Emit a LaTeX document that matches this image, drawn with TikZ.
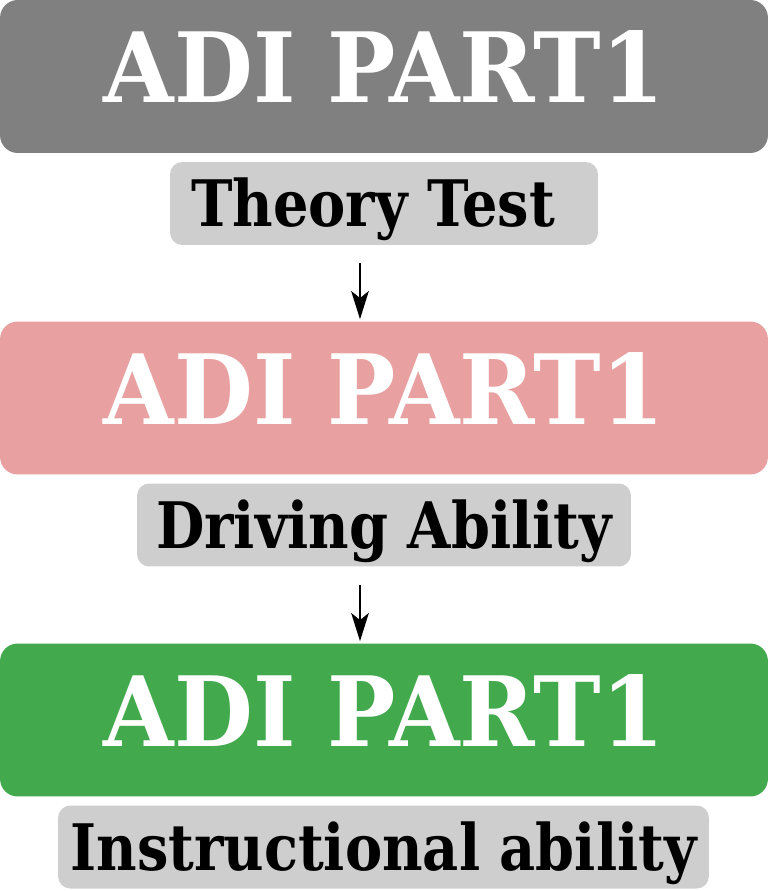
\documentclass[tikz,border=0pt]{standalone}
\usepackage{fontspec}
\setmainfont{DejaVu Serif}
\newfontfamily\partfont{DejaVu Serif}[FakeStretch=0.937]
\newfontfamily\tagfont{DejaVu Serif}[FakeStretch=0.87]
\usetikzlibrary{arrows.meta}

\definecolor{partgray}{RGB}{128,128,128}
\definecolor{partpink}{RGB}{232,160,160}
\definecolor{partgreen}{RGB}{66,170,77}
\definecolor{taggray}{RGB}{206,206,206}

\tikzset{
    partbox/.style={rectangle, rounded corners=10pt, inner sep=0pt,
        minimum width=15.36cm, minimum height=3.06cm, text=white,
        text height=1.42cm, text depth=0.36cm,
        font=\partfont\bfseries\fontsize{55.2}{55.2}\selectfont},
    tagbox/.style={rectangle, rounded corners=7pt, inner sep=0pt, fill=taggray,
        minimum height=1.66cm, text=black,
        text height=0.94cm, text depth=0pt,
        font=\tagfont\bfseries\fontsize{36.5}{36.5}\selectfont},
    steparrow/.style={-{Stealth[length=16pt,width=10pt,inset=4pt]}, line width=1.1pt,
        shorten <=0.36cm, shorten >=0.04cm}
}

\begin{document}
\begin{tikzpicture}[x=0.02cm, y=-0.02cm]
    \useasboundingbox (0,0) rectangle (768,891);

    %% Part one
    % Header
    \node[partbox, fill=partgray] (part1) at (384,76.5) {ADI PART1};
    % Tag
    \node[tagbox, minimum width=8.56cm] (theory) at (384,203.5) {Theory Test\hbox to 0.44cm{}};

    %% Part two
    \node[partbox, fill=partpink] (part2) at (384,398) {ADI PART1};
    \node[tagbox, minimum width=9.88cm] (driving) at (384,525) {Driving Ability};

    %% Part three
    \node[partbox, fill=partgreen] (part3) at (384,720) {ADI PART1};
    \node[tagbox, minimum width=13.02cm] (instruct) at (383.5,847) {Instructional ability};

    % Arrows between the parts
    \draw[steparrow] ([xshift=-0.48cm]theory.south) -- ([xshift=-0.48cm]part2.north);
    \draw[steparrow] ([xshift=-0.48cm]driving.south) -- ([xshift=-0.48cm]part3.north);

\end{tikzpicture}
\end{document}
